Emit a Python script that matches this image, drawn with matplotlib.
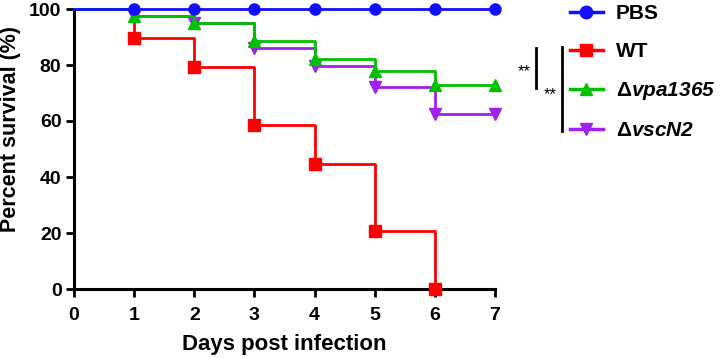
import matplotlib
matplotlib.use("Agg")
import matplotlib.pyplot as plt
from matplotlib.lines import Line2D

plt.rcParams["font.family"] = ["Liberation Sans", "DejaVu Sans"]
plt.rcParams["font.weight"] = "bold"
plt.rcParams["mathtext.fontset"] = "custom"
plt.rcParams["mathtext.rm"] = "Liberation Sans:bold:italic"
plt.rcParams["mathtext.it"] = "Liberation Sans:bold:italic"
plt.rcParams["mathtext.bf"] = "Liberation Sans:bold"
plt.rcParams["mathtext.sf"] = "Liberation Sans"

# survival data (percent), step drops happen on each day
days = [0, 1, 2, 3, 4, 5, 6, 7]
pbs = [100, 100, 100, 100, 100, 100, 100, 100]
wt = [100, 89.7, 79.3, 58.6, 44.8, 20.7, 0]
vpa1365 = [100, 97.5, 95, 88.5, 82, 78, 73, 73]
vscn2 = [100, 97.5, 95, 86, 79.5, 72, 62.5, 62.5]

labels = ["PBS", "WT", r"$\mathsf{\Delta}\mathit{vpa1365}$", r"$\mathsf{\Delta}\mathit{vscN2}$"]
colors = ["#1010ff", "#ff0000", "#00c000", "#a020f0"]
markers = ["o", "s", "^", "v"]

fig = plt.figure(figsize=(7.22, 3.58), dpi=100)
ax = fig.add_axes([74 / 722, 69 / 358, 421 / 722, 280 / 358])

series = [pbs, wt, vpa1365, vscn2]
zorders = [6, 4, 5, 3]
handles = []
for vals, lab, col, mk, z in zip(series, labels, colors, markers, zorders):
    x = days[:len(vals)]
    ax.plot(x, vals, drawstyle="steps-post", color=col, lw=2, zorder=z, clip_on=False)
    ax.plot(x[1:], vals[1:], ls="none", marker=mk, ms=8, color=col, zorder=z, clip_on=False)
    handles.append(Line2D([], [], color=col, lw=2.5, marker=mk, ms=9))

ax.set_xlim(0, 7)
ax.set_ylim(0, 100)
ax.set_xticks(range(0, 8))
ax.set_yticks(range(0, 101, 20))
ax.tick_params(width=2, length=6, labelsize=14)
ax.tick_params(axis="x", pad=7)
ax.tick_params(axis="y", pad=3)
for s in ["top", "right"]:
    ax.spines[s].set_visible(False)
for s in ["left", "bottom"]:
    ax.spines[s].set_linewidth(2.2)
for lab in ax.get_xticklabels() + ax.get_yticklabels():
    lab.set_fontweight("bold")

ax.set_xlabel("Days post infection", fontsize=16, fontweight="bold", labelpad=7)
ax.set_ylabel("Percent survival (%)", fontsize=15.5, fontweight="bold")
ax.yaxis.set_label_coords(-0.125, 0.571)

fig.legend(handles, labels, loc="upper left", bbox_to_anchor=(562 / 722, 1 - (-4) / 358),
           frameon=False, handlelength=1.55, handletextpad=0.62,
           labelspacing=0.91, borderaxespad=0, prop={"weight": "bold", "size": 15})

# significance brackets
def px(x, y):
    return x / 722, 1 - y / 358

fig.add_artist(Line2D(*zip(px(536, 48), px(536, 88)), color="black", lw=2, transform=fig.transFigure))
fig.add_artist(Line2D(*zip(px(562, 47), px(562, 131)), color="black", lw=2, transform=fig.transFigure))
fig.text(*px(524, 72), "**", ha="center", va="center", fontsize=12, fontweight="normal")
fig.text(*px(550, 95), "**", ha="center", va="center", fontsize=12, fontweight="normal")

fig.savefig("out.png", dpi=100)
